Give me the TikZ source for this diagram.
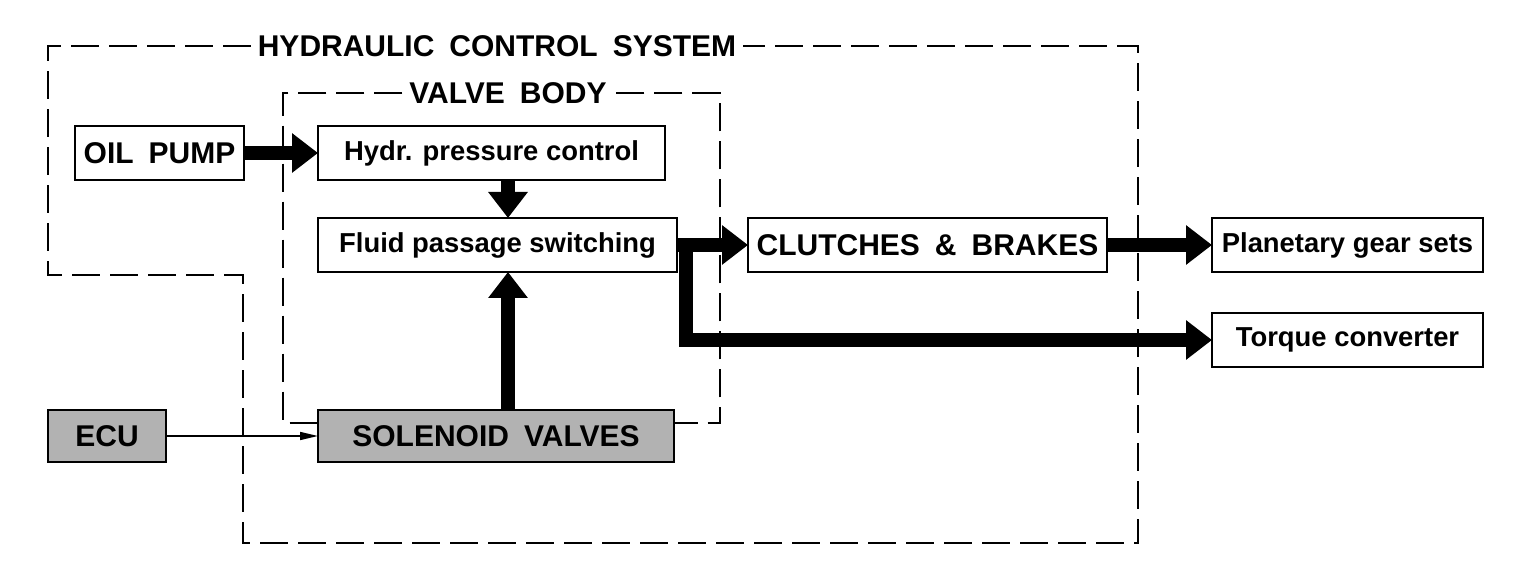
\documentclass[tikz,border=0pt]{standalone}
\usepackage{fontspec}
\setmainfont{Liberation Sans}
\usetikzlibrary{arrows.meta}
\newcommand\capfont{\fontsize{15}{18}\selectfont\bfseries\spaceskip=0.5em\relax}
\newcommand\lowfont{\fontsize{13.7}{16}\selectfont\bfseries}
\tikzset{
  box/.style={draw,line width=1pt,inner sep=0pt,outer sep=0pt,minimum height=27pt},
  shaded/.style={box,fill=black!30,minimum height=26pt},
  frame/.style={line width=1pt,dash pattern=on 14pt off 5pt},
  fat/.style={line width=7pt,-{Triangle[length=13pt,width=19pt]}},
  signal/.style={line width=0.8pt,-{Triangle[length=9pt,width=4pt]}},
}
\begin{document}
\begin{tikzpicture}[x=0.5pt,y=-0.5pt]
\useasboundingbox (0,0) rectangle (1536,576);
% dashed frames
\node[font=\capfont] (hcs) at (497,46) {HYDRAULIC CONTROL SYSTEM};
\node[font=\capfont] (vb) at (508,93) {VALVE BODY};
\draw[frame] (hcs.west) -- (48,46) -- (48,275) -- (243,275) -- (243,543)
  -- (1138,543) -- (1138,46) -- (hcs.east);
\draw[frame] (vb.west) -- (283,93) -- (283,423) -- (720,423) -- (720,93) -- (vb.east);
% boxes
\foreach \n/\x/\y/\w/\txt in {
  pump/159.5/153/84.5/OIL PUMP,
  clutch/927.5/245/179.5/CLUTCHES \& BRAKES%
}
\node[box,font=\capfont,minimum width=\w pt] (\n) at (\x,\y) {\txt};
\foreach \n/\x/\y/\w/\txt in {
  hydr/491.5/153/173.5/Hydr. pressure control,
  fluid/497.5/245/179.5/Fluid passage switching,
  planet/1347.5/245/135.5/Planetary gear sets,
  torque/1347.5/340/135.5/Torque converter%
}
\node[box,font=\lowfont,minimum width=\w pt] (\n) at (\x,\y) {\txt};
\node[shaded,font=\capfont,minimum width=59pt] (ecu) at (107,436) {ECU};
\node[shaded,font=\capfont,minimum width=178pt] (sol) at (496,436) {SOLENOID VALVES};
% flows
\coordinate (mid) at (508,0);
\coordinate (split) at (686,245);
\draw[fat] (pump) -- (hydr);
\draw[fat] (hydr.south -| mid) -- (fluid.north -| mid);
\draw[fat] (sol.north -| mid) -- (fluid.south -| mid);
\draw[fat] (fluid.east) -- (clutch.west);
\draw[fat] (split) |- (torque.west);
\draw[fat] (clutch) -- (planet);
\draw[signal] (ecu) -- (sol);
\end{tikzpicture}
\end{document}
